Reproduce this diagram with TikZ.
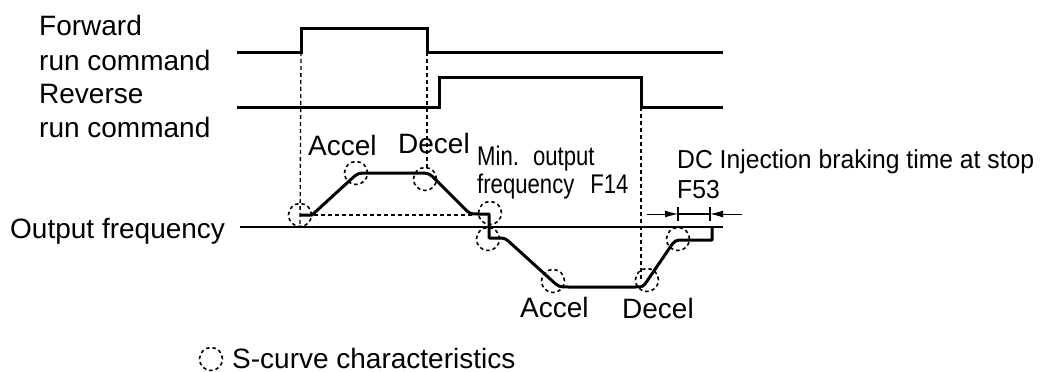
\documentclass[tikz,border=0pt]{standalone}
\usepackage{fontspec}
\setmainfont{Liberation Sans}
\newfontfamily\condfont[FakeStretch=0.82]{Liberation Sans}
\newfontfamily\dcfont[FakeStretch=0.95]{Liberation Sans}
\usetikzlibrary{arrows.meta}
\tikzset{
  lbl/.style={anchor=base west, inner sep=0pt, font=\fontsize{28}{28}\selectfont},
  smalllbl/.style={anchor=base west, inner sep=0pt, font=\dcfont\fontsize{26}{26}\selectfont},
  condlbl/.style={anchor=base west, inner sep=0pt, font=\condfont\fontsize{27}{27}\selectfont},
  sig/.style={line width=3pt, line join=miter, line cap=butt},
  axisline/.style={line width=2pt},
  guide/.style={line width=1.3pt, dash pattern=on 4pt off 3pt},
  scirc/.style={circle, draw, line width=1.6pt, dash pattern=on 3.5pt off 3pt, minimum size=23pt, inner sep=0pt},
  dimline/.style={line width=1pt},
  tip/.style={-{Latex[length=13pt,width=7pt]}, line width=1pt}
}
\begin{document}
\begin{tikzpicture}[x=1pt,y=-1pt]
\useasboundingbox (0,0) rectangle (1045,372);

% labels
\node[lbl] (fwd1) at (39,35) {Forward};
\node[lbl] (fwd2) at (39,70) {run command};
\node[lbl] (rev1) at (39,103) {Reverse};
\node[lbl] (rev2) at (39,137) {run command};
\node[lbl] (outf) at (10,238) {Output frequency};
\node[lbl] (acc1) at (308,155) {Accel};
\node[lbl] (dec1) at (398,153) {Decel};
\node[condlbl] (min1) at (477,165) {Min.\hspace{14pt}output};
\node[condlbl] (min2) at (477,193) {frequency\hspace{16pt}F14};
\node[smalllbl] (dc1) at (677,168) {DC Injection braking time at stop};
\node[smalllbl] (dc2) at (677,198) {F53};
\node[lbl] (acc2) at (520,317) {Accel};
\node[lbl] (dec2) at (622,318) {Decel};
\node[scirc] (leg) at (211,359) {};
\node[lbl] (legt) at (232,368) {S-curve characteristics};

% coordinates
\coordinate (fA) at (237,52);
\coordinate (fB) at (301,52);
\coordinate (fC) at (427,52);
\coordinate (fE) at (723,52);
\coordinate (rA) at (237,107);
\coordinate (rB) at (439,107);
\coordinate (rC) at (641,107);
\coordinate (rE) at (723,107);
\coordinate (ax0) at (240,227);
\coordinate (ax1) at (723,227);

% command signals
\draw[sig] (fA) -- (fB) -- (301,28) -- (427,28) -- (fC) -- (fE);
\draw[sig] (rA) -- (rB) -- (439,77) -- (641,77) -- (rC) -- (rE);

% axis
\draw[axisline] (ax0) -- (ax1);

% guides
\coordinate (g1) at (300,227);
\coordinate (g2) at (427,168);
\coordinate (g3) at (641,280);
\coordinate (h0) at (300,215);
\coordinate (h1) at (472,215);
\draw[guide] (fB) -- (g1);
\draw[guide] (fC) -- (g2);
\draw[guide] (rC) -- (g3);
\draw[guide] (h0) -- (h1);

% output frequency profile
\draw[sig, line join=round] (300,215) -- (312,215) -- (350.6,179.7) .. controls (358,173) .. (368,173)
  -- (419,173) .. controls (429,173) .. (436.1,180.1) -- (464.3,208.3) .. controls (470,214) .. (478,214)
  -- (489,214) -- (489,238) -- (497,238) .. controls (505,238) .. (510.9,243.4)
  -- (551.6,280.3) .. controls (559,287) .. (569,287) -- (635,287) .. controls (643,287) .. (647.5,280.4)
  -- (669.4,248.3) .. controls (675,240) .. (685,240) -- (712,240) -- (712,227);

% S-curve markers
\node[scirc] (s1) at (300,215) {};
\node[scirc] (s2) at (356,173) {};
\node[scirc] (s3) at (425,179) {};
\node[scirc] (s4) at (490,213) {};
\node[scirc] (s5) at (488,239) {};
\node[scirc] (s6) at (553,281) {};
\node[scirc] (s7) at (647,280) {};
\node[scirc] (s8) at (678,239) {};

% DC braking dimension
\coordinate (d0) at (647,214);
\coordinate (d1) at (678,214);
\coordinate (d2) at (710,214);
\coordinate (d3) at (742,214);
\draw[tip] (d0) -- (d1);
\draw[tip] (d3) -- (d2);
\draw[line width=1.6pt] (d1) -- (d2);
\draw[line width=1.3pt] (678,207) -- (678,221);
\draw[line width=1.3pt] (710,207) -- (710,221);
\end{tikzpicture}
\end{document}
